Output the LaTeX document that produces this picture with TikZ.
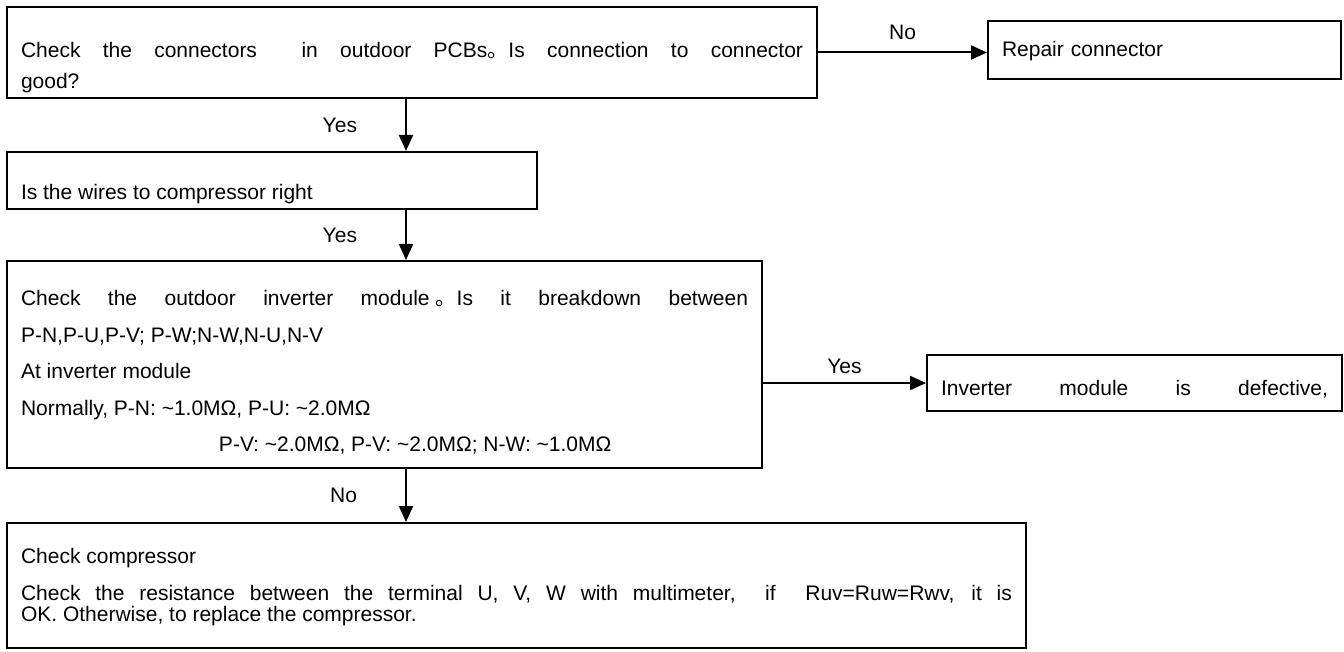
\documentclass[tikz,border=0pt]{standalone}
\usepackage{fontspec}
\setmainfont{Liberation Sans}
\newfontfamily\cjkfont{Noto Sans CJK SC}
\usetikzlibrary{positioning,arrows.meta}
\newcommand{\jstop}{{\cjkfont 。}}
\newcommand{\topgap}[1]{\rule{0pt}{#1}}
\newcommand{\botgap}[1]{\rule[-#1]{0pt}{#1}}

\tikzset{
  box/.style={draw, line width=1pt, anchor=north west, inner xsep=7pt, inner ysep=0pt,
    align=justify, font=\fontsize{10.5}{14.5}\selectfont},
  arr/.style={line width=1pt, -{Triangle[length=8pt,width=7pt]}},
  lbl/.style={inner sep=0pt, font=\fontsize{10.5}{12}\selectfont}
}

\begin{document}
\begin{tikzpicture}[x=0.5pt,y=-0.5pt]
    \useasboundingbox (0,0) rectangle (1344,652);
    % Boxes on the left
    \node[box, text width=391pt, font=\fontsize{10.5}{15.5}\selectfont] (conn) at (6,6)
        {\topgap{25.5pt}Check the connectors\ \ in outdoor PCBs\jstop Is connection to connector\linebreak
         good?\botgap{4.5pt}};
    \node[box, text width=251pt] (wires) at (6,151)
        {\topgap{24pt}Is the wires to compressor right\botgap{4.5pt}};
    \node[box, text width=363.5pt, font=\fontsize{10.5}{18.25}\selectfont] (inv) at (6,260)
        {\topgap{22.5pt}Check the outdoor inverter module\hspace{3pt}\jstop Is it breakdown between\linebreak
         P-N,P-U,P-V; P-W;N-W,N-U,N-V\\
         At inverter module\\
         Normally, P-N: \textasciitilde 1.0MΩ, P-U: \textasciitilde 2.0MΩ\\
         \hspace*{99pt}P-V: \textasciitilde 2.0MΩ, P-V: \textasciitilde 2.0MΩ; N-W: \textasciitilde 1.0MΩ\botgap{8pt}};
    \node[box, text width=495.5pt, font=\fontsize{10.5}{10.5}\selectfont] (comp) at (6,522)
        {\topgap{20pt}Check compressor\\[8pt]
         Check the resistance between the terminal U, V, W with multimeter,\ \ if\ \ Ruv=Ruw=Rwv, it is\linebreak
         OK. Otherwise, to replace the compressor.\botgap{13.5pt}};
    % Boxes on the right
    \node[box, text width=162.5pt, align=left] (repair) at (987,20)
        {\topgap{18pt}Repair connector\botgap{11pt}};
    \node[box, text width=193.5pt] (defect) at (926,354)
        {\topgap{20pt}{\parfillskip=0pt Inverter module is defective,\botgap{8pt}\par}};
    % Connectors
    \coordinate (spine) at (406,0);
    \draw[arr] (spine |- conn.south) -- (spine |- wires.north) node[lbl, midway, left=24pt] (yes1) {Yes};
    \draw[arr] (spine |- wires.south) -- (spine |- inv.north) node[lbl, midway, left=24pt] (yes2) {Yes};
    \draw[arr] (spine |- inv.south) -- (spine |- comp.north) node[lbl, midway, left=24pt] (no2) {No};
    \draw[arr] (conn.east) -- (conn.east -| repair.west) node[lbl, midway, above=5.75pt] (no1) {No};
    \draw[arr] (defect.west -| inv.east) -- (defect.west) node[lbl, midway, above=4pt] (yes3) {Yes};
\end{tikzpicture}
\end{document}
